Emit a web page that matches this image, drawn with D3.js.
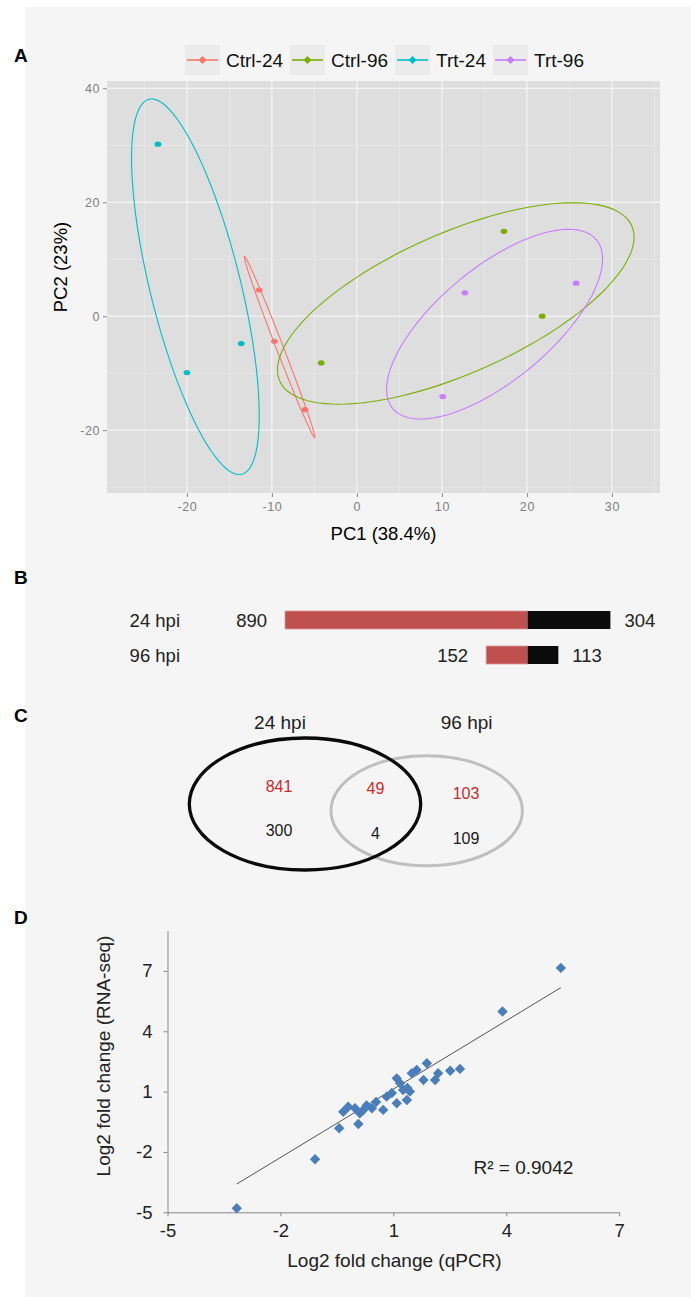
<!DOCTYPE html>
<html>
<head>
<meta charset="utf-8">
<script src="https://d3js.org/d3.v7.min.js"></script>
<style>
body { margin: 0; background: #fff; }
text { font-family: "Liberation Sans", Arial, sans-serif; }
</style>
</head>
<body>
<div id="fig"></div>
<script>
// ---- A: PCA scores ----
var groups = ["Ctrl-24", "Ctrl-96", "Trt-24", "Trt-96"];
var groupColors = ["#F8766D", "#7CAE00", "#00BFC4", "#C77CFF"];
var sampleGroup = ["Ctrl-24", "Ctrl-24", "Ctrl-24", "Ctrl-96", "Ctrl-96", "Ctrl-96",
                   "Trt-24", "Trt-24", "Trt-24", "Trt-96", "Trt-96", "Trt-96"];
var pc1 = [-11.5, -9.7, -6.1, -4.2, 17.3, 21.8, -23.4, -20.0, -13.6, 12.7, 10.1, 25.8];
var pc2 = [4.6, -4.4, -16.4, -8.2, 14.9, 0.0, 30.2, -9.9, -4.8, 4.1, -14.1, 5.8];
var pcTicksX = [-20, -10, 0, 10, 20, 30];
var pcTicksY = [-20, 0, 20, 40];
var pcMinorX = [-25, -15, -5, 5, 15, 25, 35];
var pcMinorY = [-30, -10, 10, 30];

// ---- B: DEG counts (up / down) ----
var timepoints = ["24 hpi", "96 hpi"];
var upDEG = [890, 152];
var downDEG = [304, 113];

// ---- C: Venn ----
var vennSets = ["24 hpi", "96 hpi"];
var vennUp = [841, 49, 103];
var vennDown = [300, 4, 109];

// ---- D: qPCR validation ----
var qpcr = [-3.16, -1.08, -0.44, 0.07, -0.33, -0.20, -0.02, 0.11, 0.19, 0.29, 0.43, 0.54,
            0.73, 0.82, 0.96, 1.09, 1.36, 1.44, 1.26, 1.37, 1.09, 1.18, 1.49, 1.62,
            1.89, 1.80, 2.11, 2.19, 2.51, 2.77, 3.90, 5.45];
var rnaseq = [-4.80, -2.36, -0.82, -0.61, 0.00, 0.25, 0.17, -0.08, 0.06, 0.31, 0.17, 0.48,
              0.09, 0.75, 0.93, 0.42, 0.58, 1.00, 1.08, 1.18, 1.66, 1.41, 1.91, 2.08,
              2.41, 1.58, 1.58, 1.91, 2.04, 2.13, 4.98, 7.15];
var fcTicks = [-5, -2, 1, 4, 7];
// trendline
var trendSlope = 1.134;
var trendIntercept = -0.01;
var r2Label = "R\u00B2 = 0.9042";

var svg = d3.select("#fig").append("svg")
    .attr("width", 691)
    .attr("height", 1297);

svg.append("rect")
    .attr("x", 25).attr("y", 7)
    .attr("width", 666).attr("height", 1290)
    .attr("fill", "#f5f5f5");

// panel letters
[["A", 62], ["B", 584], ["C", 722], ["D", 924]].forEach(function(l) {
  svg.append("text")
      .attr("x", 14).attr("y", l[1])
      .attr("font-size", "19px")
      .attr("font-weight", "bold")
      .text(l[0]);
});

// ================= A =================
var xA = d3.scaleLinear().domain([-29.4, 35.66]).range([107, 660]);
var yA = d3.scaleLinear().domain([-31.03, 41.28]).range([493, 81]);

var pa = svg.append("g");
pa.append("rect")
    .attr("x", 107).attr("y", 81)
    .attr("width", 553).attr("height", 412)
    .attr("fill", "#dedede");

pa.selectAll(".minx").data(pcMinorX.filter(function(d){ return xA(d) < 660; })).enter().append("line")
    .attr("x1", function(d){ return xA(d); }).attr("x2", function(d){ return xA(d); })
    .attr("y1", 81).attr("y2", 493)
    .attr("stroke", "#e9e9e9").attr("stroke-width", 0.8);
pa.selectAll(".miny").data(pcMinorY).enter().append("line")
    .attr("y1", function(d){ return yA(d); }).attr("y2", function(d){ return yA(d); })
    .attr("x1", 107).attr("x2", 660)
    .attr("stroke", "#e9e9e9").attr("stroke-width", 0.8);
pa.selectAll(".majx").data(pcTicksX).enter().append("line")
    .attr("x1", function(d){ return xA(d); }).attr("x2", function(d){ return xA(d); })
    .attr("y1", 81).attr("y2", 493)
    .attr("stroke", "#f3f3f3").attr("stroke-width", 1.3);
pa.selectAll(".majy").data(pcTicksY).enter().append("line")
    .attr("y1", function(d){ return yA(d); }).attr("y2", function(d){ return yA(d); })
    .attr("x1", 107).attr("x2", 660)
    .attr("stroke", "#f3f3f3").attr("stroke-width", 1.3);

var axAy = svg.append("g")
    .attr("transform", "translate(107,0)")
    .call(d3.axisLeft(yA).tickValues(pcTicksY).tickSize(4).tickPadding(3).tickFormat(String));
var axAx = svg.append("g")
    .attr("transform", "translate(0,493)")
    .call(d3.axisBottom(xA).tickValues(pcTicksX).tickSize(4).tickPadding(5).tickFormat(String));
[axAy, axAx].forEach(function(ax) {
  ax.select(".domain").remove();
  ax.selectAll("line").attr("stroke", "#8a8a8a");
  ax.selectAll("text")
      .attr("fill", "#808080")
      .attr("font-size", "12.5px")
      .attr("letter-spacing", "0.6px")
      .style("font-family", "'Liberation Sans', Arial, sans-serif");
});

svg.append("text")
    .attr("x", 383.5).attr("y", 540)
    .attr("text-anchor", "middle")
    .attr("font-size", "18.5px")
    .text("PC1 (38.4%)");
svg.append("text")
    .attr("transform", "translate(67,267) rotate(-90)")
    .attr("text-anchor", "middle")
    .attr("font-size", "18.5px")
    .text("PC2 (23%)");

// 68% normal ellipses per group
var rEll = Math.sqrt(-2 * Math.log(1 - 0.68));
function ellipsePts(xs, ys) {
  var n = xs.length, mx = d3.mean(xs), my = d3.mean(ys);
  var sxx = 0, syy = 0, sxy = 0;
  for (var i = 0; i < n; i++) {
    sxx += (xs[i] - mx) * (xs[i] - mx);
    syy += (ys[i] - my) * (ys[i] - my);
    sxy += (xs[i] - mx) * (ys[i] - my);
  }
  sxx /= (n - 1); syy /= (n - 1); sxy /= (n - 1);
  var tr = (sxx + syy) / 2, dd = Math.sqrt(Math.pow((sxx - syy) / 2, 2) + sxy * sxy);
  var l1 = tr + dd, l2 = Math.max(tr - dd, 0);
  var th = Math.atan2(l1 - sxx, sxy);
  if (Math.abs(sxy) < 1e-12) th = sxx >= syy ? 0 : Math.PI / 2;
  var c = Math.cos(th), s = Math.sin(th);
  var out = [];
  for (var k = 0; k <= 120; k++) {
    var t = 2 * Math.PI * k / 120;
    var a = rEll * Math.sqrt(l1) * Math.cos(t), b = rEll * Math.sqrt(l2) * Math.sin(t);
    out.push([mx + a * c - b * s, my + a * s + b * c]);
  }
  return out;
}

var lineA = d3.line()
    .x(function(d){ return xA(d[0]); })
    .y(function(d){ return yA(d[1]); });

groups.forEach(function(g, gi) {
  var xs = [], ys = [];
  sampleGroup.forEach(function(sg, i) { if (sg === g) { xs.push(pc1[i]); ys.push(pc2[i]); } });
  pa.append("path")
      .attr("d", lineA(ellipsePts(xs, ys)))
      .attr("fill", "none")
      .attr("stroke", groupColors[gi])
      .attr("stroke-width", 1.1);
});

pa.selectAll(".pt").data(pc1).enter().append("ellipse")
    .attr("cx", function(d){ return xA(d); })
    .attr("cy", function(d, i){ return yA(pc2[i]); })
    .attr("rx", 3.4).attr("ry", 2.6)
    .attr("fill", function(d, i){ return groupColors[groups.indexOf(sampleGroup[i])]; });

// legend
var lx = 185;
groups.forEach(function(g, gi) {
  var lg = svg.append("g");
  lg.append("rect")
      .attr("x", lx).attr("y", 45)
      .attr("width", 35).attr("height", 30)
      .attr("fill", "#ebebeb");
  lg.append("line")
      .attr("x1", lx + 2).attr("x2", lx + 33)
      .attr("y1", 60).attr("y2", 60)
      .attr("stroke", groupColors[gi]).attr("stroke-width", 1.6);
  lg.append("path")
      .attr("d", "M0,-4L4,0L0,4L-4,0Z")
      .attr("transform", "translate(" + (lx + 17.5) + ",60)")
      .attr("fill", groupColors[gi]);
  var t = lg.append("text")
      .attr("x", lx + 41).attr("y", 60)
      .attr("dy", "0.36em")
      .attr("font-size", "19px")
      .attr("fill", "#111")
      .text(g);
  lx += 41 + t.node().getComputedTextLength() + 7;
});

// ================= B =================
var xB = d3.scaleLinear().domain([-d3.max(upDEG), d3.max(downDEG)]).range([285, 610.4]);
var yB = d3.scaleBand().domain(timepoints).range([611, 664]).paddingInner(17 / 35).paddingOuter(0);

var pb = svg.append("g");
timepoints.forEach(function(tp, i) {
  var yy = yB(tp), h = yB.bandwidth();
  pb.append("rect")
      .attr("x", xB(-upDEG[i])).attr("y", yy)
      .attr("width", xB(0) - xB(-upDEG[i])).attr("height", h)
      .attr("fill", "#c0504d")
      .attr("stroke", "#d99a98").attr("stroke-width", 0.8);
  pb.append("rect")
      .attr("x", xB(0)).attr("y", yy)
      .attr("width", xB(downDEG[i]) - xB(0)).attr("height", h)
      .attr("fill", "#0b0b0b");
  pb.append("text")
      .attr("x", 180).attr("y", yy + h / 2).attr("dy", "0.36em")
      .attr("text-anchor", "end")
      .attr("font-size", "18.5px").attr("fill", "#222")
      .text(tp);
  pb.append("text")
      .attr("x", xB(-upDEG[i]) - 18).attr("y", yy + h / 2).attr("dy", "0.36em")
      .attr("text-anchor", "end")
      .attr("font-size", "18.5px").attr("fill", "#222")
      .text(upDEG[i]);
  pb.append("text")
      .attr("x", xB(downDEG[i]) + 14).attr("y", yy + h / 2).attr("dy", "0.36em")
      .attr("font-size", "18.5px").attr("fill", "#222")
      .text(downDEG[i]);
});

// ================= C =================
var pc = svg.append("g");
pc.append("ellipse")
    .attr("cx", 426.7).attr("cy", 810.7)
    .attr("rx", 95.7).attr("ry", 55)
    .attr("fill", "none").attr("stroke", "#bfbfbf").attr("stroke-width", 3);
pc.append("ellipse")
    .attr("cx", 305).attr("cy", 804)
    .attr("rx", 115.7).attr("ry", 66)
    .attr("fill", "none").attr("stroke", "#0a0a0a").attr("stroke-width", 3.3);

var setLabelX = [280, 466.7];
vennSets.forEach(function(s, i) {
  pc.append("text")
      .attr("x", setLabelX[i]).attr("y", 729)
      .attr("text-anchor", "middle")
      .attr("font-size", "19px").attr("fill", "#222")
      .text(s);
});
var regionX = [279, 375.5, 466];
var upY = [792, 793.5, 798.5];
var downY = [835.5, 839, 844];
vennUp.forEach(function(v, i) {
  pc.append("text")
      .attr("x", regionX[i]).attr("y", upY[i])
      .attr("text-anchor", "middle")
      .attr("font-size", "16px").attr("fill", "#cc2a2a")
      .text(v);
  pc.append("text")
      .attr("x", regionX[i]).attr("y", downY[i])
      .attr("text-anchor", "middle")
      .attr("font-size", "16px").attr("fill", "#1a1a1a")
      .text(vennDown[i]);
});

// ================= D =================
var xD = d3.scaleLinear().domain([-5, 7]).range([167.5, 619.2]);
var yD = d3.scaleLinear().domain([-5, 9]).range([1212.3, 930.7]);

var pd = svg.append("g");
var axDx = pd.append("g")
    .attr("transform", "translate(0," + yD(-5) + ")")
    .call(d3.axisBottom(xD).tickValues(fcTicks).tickSize(4).tickSizeOuter(0).tickPadding(8).tickFormat(String));
var axDy = pd.append("g")
    .attr("transform", "translate(" + xD(-5) + ",0)")
    .call(d3.axisLeft(yD).tickValues(fcTicks).tickSize(4).tickSizeOuter(0).tickPadding(11).tickFormat(String));
[axDx, axDy].forEach(function(ax) {
  ax.select(".domain").attr("stroke", "#888");
  ax.selectAll("line").attr("stroke", "#888");
  ax.selectAll("text")
      .attr("fill", "#222")
      .attr("font-size", "18.5px")
      .style("font-family", "'Liberation Sans', Arial, sans-serif");
});

pd.append("text")
    .attr("x", 394.5).attr("y", 1267)
    .attr("text-anchor", "middle")
    .attr("font-size", "19px").attr("fill", "#222")
    .text("Log2 fold change (qPCR)");
pd.append("text")
    .attr("transform", "translate(110,1056) rotate(-90)")
    .attr("text-anchor", "middle")
    .attr("font-size", "19px").attr("fill", "#222")
    .text("Log2 fold change (RNA-seq)");

// linear trendline across the qPCR range
var xr = d3.extent(qpcr);
pd.append("line")
    .attr("x1", xD(xr[0])).attr("y1", yD(trendIntercept + trendSlope * xr[0]))
    .attr("x2", xD(xr[1])).attr("y2", yD(trendIntercept + trendSlope * xr[1]))
    .attr("stroke", "#555").attr("stroke-width", 1);

pd.selectAll(".dia").data(qpcr).enter().append("path")
    .attr("d", "M0,-5.2L5.2,0L0,5.2L-5.2,0Z")
    .attr("transform", function(d, i){ return "translate(" + xD(d) + "," + yD(rnaseq[i]) + ")"; })
    .attr("fill", "#4a7ebb");

pd.append("text")
    .attr("x", 473.5).attr("y", 1166.7).attr("dy", "0.36em")
    .attr("font-size", "19px").attr("fill", "#222")
    .text(r2Label);
</script>
</body>
</html>
